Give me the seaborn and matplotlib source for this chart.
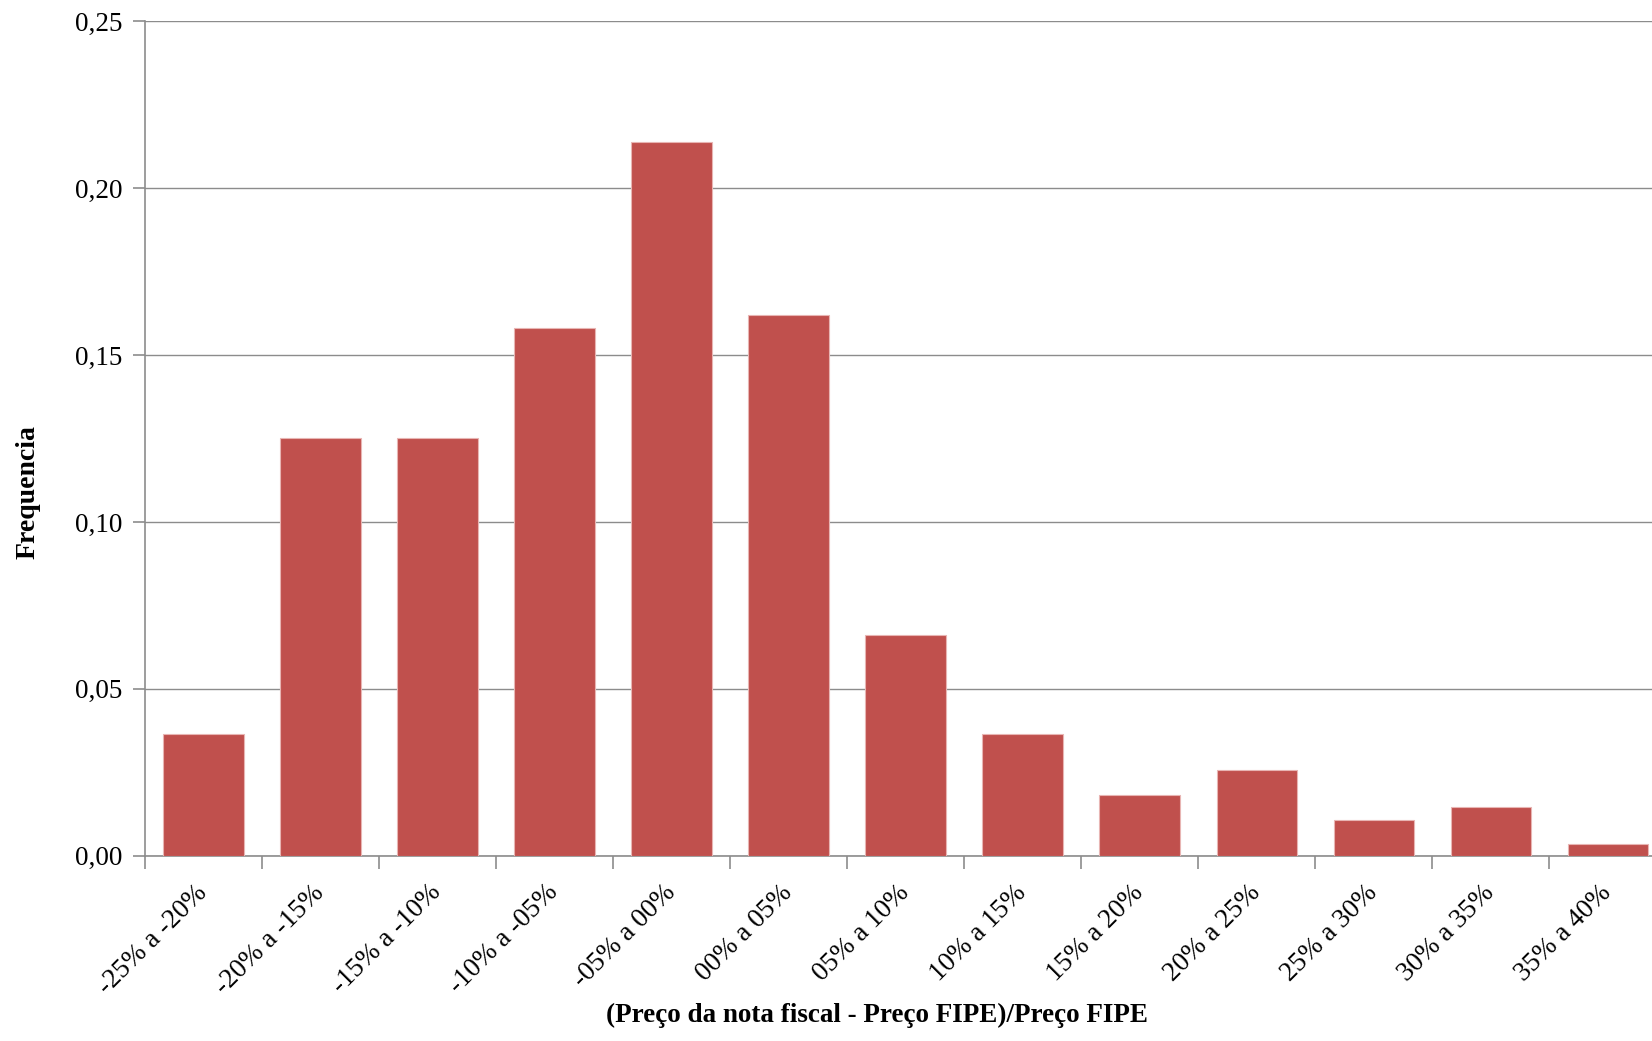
import matplotlib
matplotlib.use("Agg")
import matplotlib.pyplot as plt
import seaborn as sns
import pandas as pd
from matplotlib.ticker import FixedLocator, FuncFormatter

# Price-difference classes and their relative frequencies
classes = ["-25% a -20%", "-20% a -15%", "-15% a -10%", "-10% a -05%", "-05% a 00%",
           "00% a 05%", "05% a 10%", "10% a 15%", "15% a 20%", "20% a 25%",
           "25% a 30%", "30% a 35%", "35% a 40%"]
freq = [0.0366, 0.1250, 0.1250, 0.1582, 0.2137, 0.1620, 0.0660, 0.0366,
        0.0183, 0.0256, 0.0107, 0.0145, 0.0035]
y_ticks = [0.00, 0.05, 0.10, 0.15, 0.20, 0.25]

df = pd.DataFrame({"classe": classes, "freq": freq})

sns.set_theme(style="white")
plt.rcParams["font.family"] = ["Liberation Serif", "DejaVu Serif"]
plt.rcParams["text.color"] = "black"
plt.rcParams["axes.labelcolor"] = "black"
plt.rcParams["xtick.labelcolor"] = "black"
plt.rcParams["ytick.labelcolor"] = "black"

fig = plt.figure(figsize=(16.52, 10.41), dpi=100)
ax = fig.add_axes([0.0878, 0.178, 0.921, 0.8016])

sns.barplot(data=df, x="classe", y="freq", color="#C0504D", width=0.69,
            saturation=1, ax=ax, zorder=3)
for p in ax.patches:
    p.set_edgecolor("#E8B5B3")
    p.set_linewidth(0.8)

grid_col = "#8C8C8C"
ax.set_ylim(0, 0.25)
ax.set_xlim(-0.5, len(classes) - 0.5)
ax.yaxis.set_major_locator(FixedLocator(y_ticks))
ax.yaxis.set_major_formatter(FuncFormatter(lambda v, _: f"{v:.2f}".replace(".", ",")))
ax.grid(axis="y", color=grid_col, linewidth=1.0, zorder=0)
ax.set_axisbelow(True)

for side in ["top", "right"]:
    ax.spines[side].set_visible(False)
for side in ["left", "bottom"]:
    ax.spines[side].set_color(grid_col)
    ax.spines[side].set_linewidth(1.2)

# category labels at centres, tick marks at class boundaries
ax.set_xticks(range(len(classes)))
ax.set_xticklabels(classes, rotation=45, ha="right", va="center",
                   rotation_mode="anchor", fontsize=19.5, color="black")
ax.tick_params(axis="x", which="major", length=0, pad=24)
ax.xaxis.set_minor_locator(FixedLocator([i - 0.5 for i in range(len(classes) + 1)]))
ax.tick_params(axis="x", which="minor", length=9, color=grid_col, width=1.2,
               direction="out", bottom=True)
ax.tick_params(axis="y", length=9, color=grid_col, width=1.2, direction="out",
               left=True, labelsize=19.5, pad=7, labelcolor="black")

ax.set_xlabel("(Preço da nota fiscal - Preço FIPE)/Preço FIPE", fontsize=19.5,
              fontweight="bold", color="black")
ax.xaxis.set_label_coords(0.481, -0.176)
ax.set_ylabel("Frequencia", fontsize=20, fontweight="bold", color="black")
ax.yaxis.set_label_coords(-0.069, 0.436)

fig.savefig("out.png", dpi=100)
